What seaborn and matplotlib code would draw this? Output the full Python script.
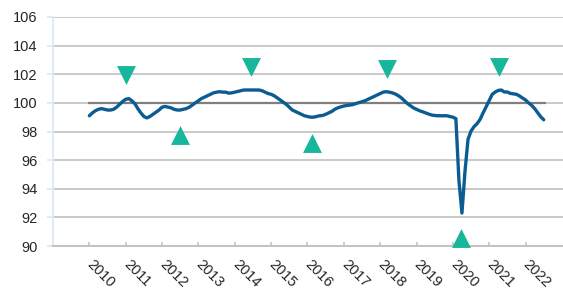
import matplotlib
matplotlib.use("Agg")
import matplotlib.pyplot as plt
import seaborn as sns
import numpy as np
import pandas as pd

# monthly index values, Jan 2010 - Jul 2022
values = [
    99.1, 99.3, 99.45, 99.55, 99.6, 99.55, 99.5, 99.5, 99.55, 99.7, 99.9, 100.1,        # 2010
    100.25, 100.3, 100.15, 99.95, 99.6, 99.3, 99.05, 98.95, 99.05, 99.2, 99.35, 99.5,   # 2011
    99.7, 99.75, 99.7, 99.65, 99.55, 99.5, 99.5, 99.55, 99.6, 99.7, 99.85, 100.0,       # 2012
    100.15, 100.3, 100.4, 100.5, 100.6, 100.7, 100.75, 100.78, 100.75, 100.75, 100.68, 100.7,  # 2013
    100.75, 100.8, 100.85, 100.9, 100.9, 100.9, 100.9, 100.9, 100.9, 100.85, 100.75, 100.65,   # 2014
    100.6, 100.5, 100.35, 100.2, 100.05, 99.9, 99.7, 99.5, 99.4, 99.3, 99.2, 99.1,      # 2015
    99.05, 99.0, 99.0, 99.05, 99.1, 99.12, 99.2, 99.3, 99.4, 99.55, 99.65, 99.72,       # 2016
    99.78, 99.82, 99.85, 99.88, 99.95, 100.02, 100.08, 100.15, 100.25, 100.35, 100.45, 100.55,  # 2017
    100.65, 100.75, 100.78, 100.75, 100.7, 100.62, 100.5, 100.35, 100.15, 99.95, 99.8, 99.65,   # 2018
    99.55, 99.45, 99.38, 99.3, 99.22, 99.15, 99.12, 99.1, 99.1, 99.1, 99.1, 99.05,      # 2019
    99.0, 98.9, 94.6, 92.3, 95.2, 97.45, 98.03, 98.34, 98.55, 98.85, 99.31, 99.73,      # 2020
    100.17, 100.6, 100.76, 100.87, 100.9, 100.76, 100.76, 100.66, 100.63, 100.6, 100.48, 100.34,  # 2021
    100.2, 100.0, 99.83, 99.6, 99.31, 99.03, 98.82,                                     # 2022
]
start_year = 2010
years = list(range(2010, 2023))

# turning points (decimal year, level)
peak_t = [2011.0, 2014.46, 2018.19, 2021.28]
peak_v = [101.97, 102.52, 102.38, 102.48]
trough_t = [2012.5, 2016.13, 2020.22]
trough_v = [97.76, 97.17, 90.56]

line_color = "#0B5C92"
teal = "#17B79B"

df = pd.DataFrame({"t": start_year + np.arange(len(values)) / 12, "v": values})

sns.set_style("white")
plt.rcParams["font.family"] = ["Liberation Sans", "DejaVu Sans"]

fig = plt.figure(figsize=(5.63, 2.93), dpi=100)
ax = fig.add_axes([53 / 563, 1 - 246 / 293, 1 - 53 / 563, 229 / 293])

ax.set_ylim(90, 106)
ax.set_yticks(range(90, 107, 2))
ax.set_xlim(2009, 2023.03)
ax.set_xticks(years)
ax.yaxis.grid(True, color="#C0C0C0", linewidth=1.2)
ax.set_axisbelow(True)

ax.hlines(100, df["t"].iloc[0] - 0.05, df["t"].iloc[-1] + 0.05, color="#7F7F7F", linewidth=1.6, zorder=2)

sns.lineplot(data=df, x="t", y="v", color=line_color, linewidth=2.4, ax=ax, zorder=3)
sns.scatterplot(x=peak_t, y=peak_v, marker="v", s=185, color=teal, linewidth=0, ax=ax, zorder=4)
sns.scatterplot(x=trough_t, y=trough_v, marker="^", s=185, color=teal, linewidth=0, ax=ax, zorder=4, clip_on=False)

ax.set_xlabel("")
ax.set_ylabel("")
for s in ["top", "right"]:
    ax.spines[s].set_visible(False)
ax.spines["left"].set_color("#DCE8F3")
ax.spines["left"].set_linewidth(1.3)
ax.spines["bottom"].set_color("#BFBFBF")
ax.spines["bottom"].set_linewidth(1.3)

ax.tick_params(axis="y", left=True, length=4, width=1.2, color="#DCE8F3", pad=7,
               labelsize=10.5, labelcolor="#262626")
ax.tick_params(axis="x", bottom=True, direction="in", length=3, width=1.1, color="#BFBFBF",
               pad=12, labelsize=10.5, labelcolor="#262626")
for lab in ax.get_xticklabels():
    lab.set_rotation(-45)
    lab.set_rotation_mode("anchor")
    lab.set_ha("left")
    lab.set_va("center")

fig.savefig("out.png", dpi=100)
